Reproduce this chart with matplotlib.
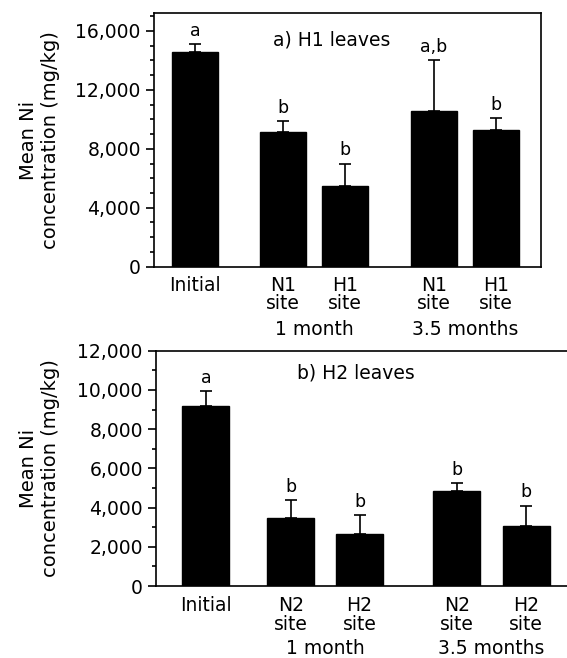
import matplotlib.pyplot as plt
from matplotlib.ticker import MultipleLocator, FuncFormatter

plt.rcParams['font.family'] = 'DejaVu Sans'
plt.rcParams['font.size'] = 13

# Panel a) H1 leaves
h1Labels = ["Initial", "N1\nsite", "H1\nsite", "N1\nsite", "H1\nsite"]
h1Means = [14600, 9150, 5500, 10600, 9250]
h1ErrTop = [15100, 9900, 7000, 14000, 10100]
h1Letters = ["a", "b", "b", "a,b", "b"]

# Panel b) H2 leaves
h2Labels = ["Initial", "N2\nsite", "H2\nsite", "N2\nsite", "H2\nsite"]
h2Means = [9200, 3450, 2650, 4850, 3050]
h2ErrTop = [9950, 4400, 3600, 5250, 4100]
h2Letters = ["a", "b", "b", "b", "b"]

groupNames = ["1 month", "3.5 months"]


def drawPanel(ax, pos, means, errTop, letters, labels, width, title, titleXY,
              ymax, major, monthOffset, labelX, lineSpacing):
    errs = [e - m for e, m in zip(errTop, means)]
    ax.bar(pos, means, width=width, color='black', edgecolor='black')
    ax.errorbar(pos, means, yerr=[[0] * len(errs), errs], fmt='none',
                ecolor='black', elinewidth=1.2, capsize=4, capthick=1.2)
    for x, top, letter in zip(pos, errTop, letters):
        ax.annotate(letter, xy=(x, top), xytext=(0, 3), textcoords='offset points',
                    ha='center', va='bottom', fontsize=12.5)

    ax.set_ylim(0, ymax)
    ax.yaxis.set_major_locator(MultipleLocator(major))
    ax.yaxis.set_minor_locator(MultipleLocator(1000))
    ax.yaxis.set_major_formatter(FuncFormatter(lambda v, p: "{:,.0f}".format(v)))
    ax.tick_params(axis='y', which='major', direction='out', length=6, width=1.2, labelsize=13.5)
    ax.tick_params(axis='y', which='minor', direction='out', length=3, width=1.2)
    ax.set_xticks(pos)
    ax.set_xticklabels(labels, linespacing=lineSpacing)
    ax.tick_params(axis='x', length=0, pad=7, labelsize=13.5)
    for s in ax.spines.values():
        s.set_linewidth(1.2)

    ax.set_ylabel("Mean Ni\nconcentration (mg/kg)", fontsize=14)
    ax.yaxis.set_label_coords(labelX, 0.5)
    ax.text(titleXY[0], titleXY[1], title, transform=ax.transAxes,
            ha='left', va='center', fontsize=13.5)

    # group labels under the site pairs
    ax.annotate(groupNames[0], xy=((pos[1] + pos[2]) / 2, 0), xycoords=('data', 'axes fraction'),
                xytext=(0, -monthOffset), textcoords='offset points',
                ha='center', va='center', fontsize=13.5)
    ax.annotate(groupNames[1], xy=((pos[3] + pos[4]) / 2, 0), xycoords=('data', 'axes fraction'),
                xytext=(0, -monthOffset), textcoords='offset points',
                ha='center', va='center', fontsize=13.5)


fig = plt.figure(figsize=(5.67, 6.58), dpi=100)

axA = fig.add_axes([0.2716, 0.5947, 0.6825, 0.3851])
posA = [0, 1.42, 2.42, 3.85, 4.85]
drawPanel(axA, posA, h1Means, h1ErrTop, h1Letters, h1Labels, 0.74,
          "a) H1 leaves", (0.307, 0.895), 17200, 4000, 45, -0.243, 0.9)
axA.set_xlim(-0.66, 5.58)

axB = fig.add_axes([0.2751, 0.1094, 0.7249, 0.3576])
posB = [0, 1.25, 2.26, 3.69, 4.71]
drawPanel(axB, posB, h2Means, h2ErrTop, h2Letters, h2Labels, 0.69,
          "b) H2 leaves", (0.342, 0.906), 12000, 2000, 45, -0.234, 1.0)
axB.set_xlim(-0.735, 5.31)
axB.spines['right'].set_visible(False)

fig.savefig("out.png", dpi=100)
